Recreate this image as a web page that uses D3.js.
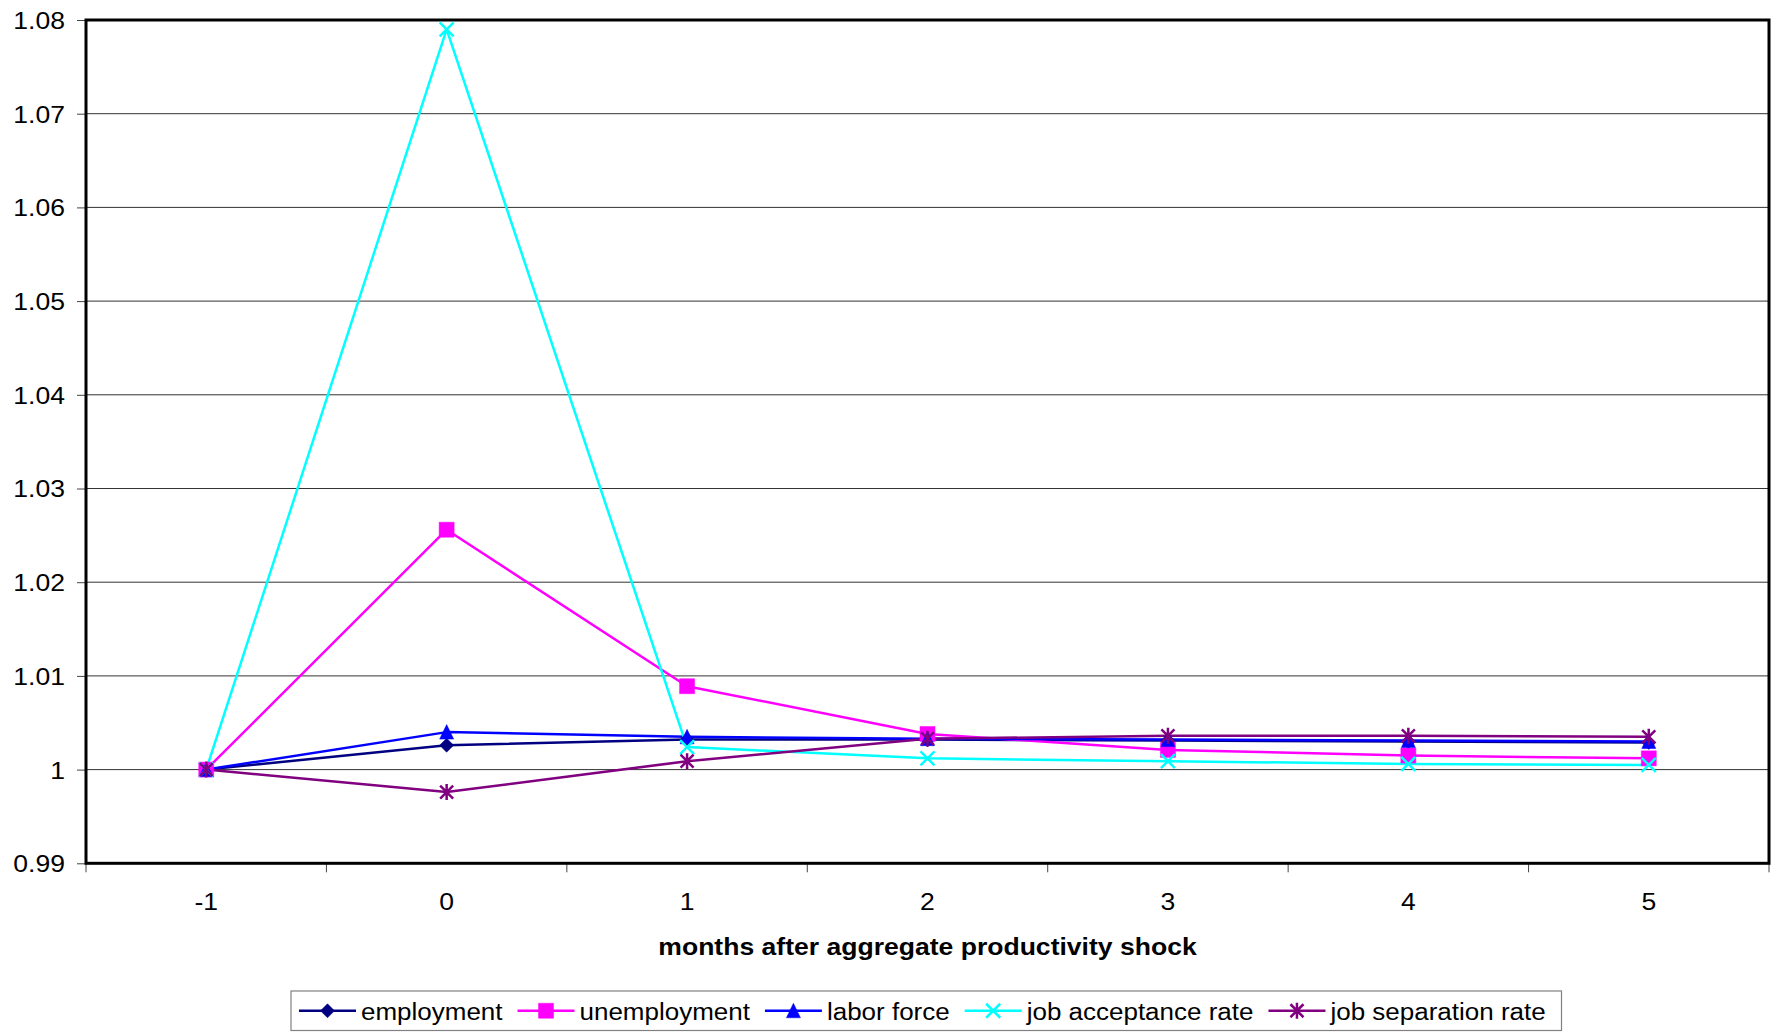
<!DOCTYPE html>
<html>
<head>
<meta charset="utf-8">
<script src="https://cdn.jsdelivr.net/npm/d3@7"></script>
<style>
  html, body { margin: 0; padding: 0; background: #fff; }
  svg { display: block; font-family: "Liberation Sans", Arial, sans-serif; }
</style>
</head>
<body>
<svg id="chart" width="1776" height="1032"></svg>
<script>
// ---------------- data ----------------
const categories = ["-1", "0", "1", "2", "3", "4", "5"];
const yTickValues = [0.99, 1.00, 1.01, 1.02, 1.03, 1.04, 1.05, 1.06, 1.07, 1.08];

const employment    = [1.0000, 1.0026, 1.0032, 1.0032, 1.0031, 1.0030, 1.0029];
const unemployment  = [1.0000, 1.0256, 1.0089, 1.0038, 1.0021, 1.0015, 1.0012];
const laborForce    = [1.0000, 1.0040, 1.0035, 1.0033, 1.0032, 1.0031, 1.0030];
const jobAcceptance = [1.0000, 1.0790, 1.0024, 1.0012, 1.0009, 1.0006, 1.0005];
const jobSeparation = [1.0000, 0.9976, 1.0009, 1.0033, 1.0036, 1.0036, 1.0035];

const seriesNames  = ["employment", "unemployment", "labor force", "job acceptance rate", "job separation rate"];
const seriesValues = [employment, unemployment, laborForce, jobAcceptance, jobSeparation];
const seriesColors = ["#000080", "#FF00FF", "#0000FF", "#00FFFF", "#800080"];
const seriesMarkers = ["diamond", "square", "triangle", "cross", "asterisk"];

const xTitle = "months after aggregate productivity shock";

// ---------------- layout ----------------
const plot = { left: 86, right: 1769, top: 20, bottom: 863.3 };
const FS = 23.5;       // axis font size
const LFS = 23;        // legend font size
const SX = 1.13;       // horizontal text stretch of the original

const svg = d3.select("#chart");

const x = d3.scaleBand().domain(categories).range([plot.left, plot.right]).padding(0);
const y = d3.scaleLinear().domain([0.99, 1.08]).range([plot.bottom, plot.top]);

// gridlines
svg.append("g")
  .selectAll("line")
  .data(yTickValues.filter(v => v > 0.995 && v < 1.075))
  .join("line")
  .attr("x1", plot.left).attr("x2", plot.right)
  .attr("y1", d => y(d)).attr("y2", d => y(d))
  .attr("stroke", "#333").attr("stroke-width", 1);

// y axis
const yAxis = svg.append("g")
  .attr("transform", `translate(${plot.left},0)`)
  .call(d3.axisLeft(y).tickValues(yTickValues).tickSize(9).tickPadding(9.6)
        .tickFormat(d => String(+d.toFixed(2))));
yAxis.select(".domain").remove();
yAxis.selectAll(".tick line").attr("stroke", "#444").attr("stroke-width", 1);
yAxis.selectAll(".tick text")
  .attr("font-size", FS).attr("fill", "#000")
  .attr("font-family", "Liberation Sans, Arial, sans-serif")
  .attr("dy", "0.36em")
  .attr("transform", `scale(${SX},1)`);

// x axis labels
const xAxis = svg.append("g")
  .attr("transform", `translate(0,${plot.bottom})`)
  .call(d3.axisBottom(x).tickSize(0).tickPadding(30));
xAxis.select(".domain").remove();
xAxis.selectAll(".tick text")
  .attr("font-size", FS).attr("fill", "#000")
  .attr("font-family", "Liberation Sans, Arial, sans-serif")
  .attr("transform", `scale(${SX},1)`);

// x tick marks at category boundaries
const boundaries = categories.map(c => x(c)).concat([x(categories[categories.length - 1]) + x.bandwidth()]);
svg.append("g").selectAll("line")
  .data(boundaries)
  .join("line")
  .attr("x1", d => d).attr("x2", d => d)
  .attr("y1", plot.bottom).attr("y2", plot.bottom + 9)
  .attr("stroke", "#444").attr("stroke-width", 1);

// plot border
svg.append("rect")
  .attr("x", plot.left).attr("y", plot.top)
  .attr("width", plot.right - plot.left).attr("height", plot.bottom - plot.top)
  .attr("fill", "none").attr("stroke", "#000").attr("stroke-width", 3);

// x axis title
svg.append("text")
  .attr("transform", `translate(${(plot.left + plot.right) / 2},955) scale(${SX},1)`)
  .attr("text-anchor", "middle")
  .attr("font-size", FS).attr("font-weight", "bold")
  .text(xTitle);

// ---------------- markers ----------------
function markerPath(type) {
  const p = d3.path();
  if (type === "diamond") {
    p.moveTo(0, -7); p.lineTo(7, 0); p.lineTo(0, 7); p.lineTo(-7, 0); p.closePath();
  } else if (type === "square") {
    p.rect(-7.5, -7.5, 15, 15);
  } else if (type === "triangle") {
    p.moveTo(0, -7.5); p.lineTo(7, 7); p.lineTo(-7, 7); p.closePath();
  } else if (type === "cross") {
    p.moveTo(-7, -7); p.lineTo(7, 7); p.moveTo(7, -7); p.lineTo(-7, 7);
  } else if (type === "asterisk") {
    p.moveTo(-6.5, -6.5); p.lineTo(6.5, 6.5); p.moveTo(6.5, -6.5); p.lineTo(-6.5, 6.5);
    p.moveTo(0, -8); p.lineTo(0, 8);
  }
  return p.toString();
}
function drawMarker(sel, type, color) {
  const filled = (type === "diamond" || type === "square" || type === "triangle");
  sel.append("path")
    .attr("d", markerPath(type))
    .attr("fill", filled ? color : "none")
    .attr("stroke", color)
    .attr("stroke-width", filled ? 0.5 : 2.5);
}

// lines
const line = d3.line()
  .x((d, i) => x(categories[i]) + x.bandwidth() / 2)
  .y(d => y(d));

const linesG = svg.append("g");
seriesValues.forEach((vals, k) => {
  linesG.append("path")
    .datum(vals)
    .attr("d", line)
    .attr("fill", "none")
    .attr("stroke", seriesColors[k])
    .attr("stroke-width", 2.5)
    .attr("stroke-linejoin", "round");
});

// markers on points
const marksG = svg.append("g");
seriesValues.forEach((vals, k) => {
  const g = marksG.append("g");
  vals.forEach((v, i) => {
    const m = g.append("g")
      .attr("transform", `translate(${x(categories[i]) + x.bandwidth() / 2},${y(v)})`);
    drawMarker(m, seriesMarkers[k], seriesColors[k]);
  });
});

// ---------------- legend ----------------
const legend = svg.append("g");
const legBox = { x: 291, y: 991, w: 1270.5, h: 39.5 };
legend.append("rect")
  .attr("x", legBox.x).attr("y", legBox.y)
  .attr("width", legBox.w).attr("height", legBox.h)
  .attr("fill", "#fff").attr("stroke", "#808080").attr("stroke-width", 1.2);

let lx = 299;
const ly = legBox.y + legBox.h / 2;
seriesNames.forEach((name, k) => {
  const g = legend.append("g");
  g.append("line")
    .attr("x1", lx).attr("x2", lx + 57)
    .attr("y1", ly).attr("y2", ly)
    .attr("stroke", seriesColors[k]).attr("stroke-width", 2.5);
  const m = g.append("g").attr("transform", `translate(${lx + 28.5},${ly})`);
  drawMarker(m, seriesMarkers[k], seriesColors[k]);
  const t = g.append("text")
    .attr("transform", `translate(${lx + 62},1019.5) scale(${SX},1)`)
    .attr("font-size", LFS)
    .text(name);
  const w = t.node().getComputedTextLength() * SX;
  lx = lx + 62 + w + 15;
});
</script>
</body>
</html>
